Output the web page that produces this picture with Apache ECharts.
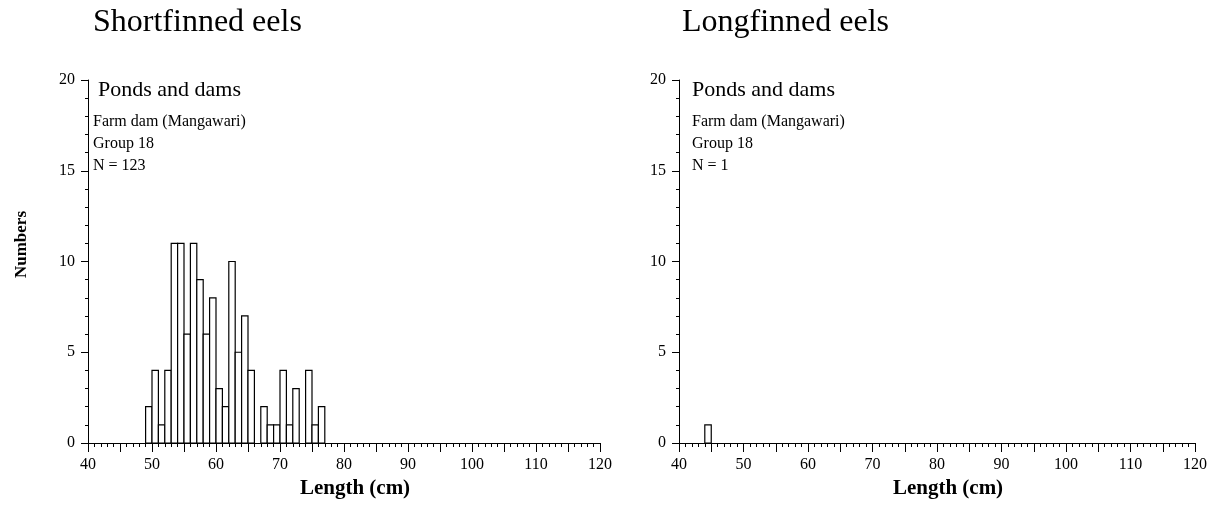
<!DOCTYPE html>
<html>
<head>
<meta charset="utf-8">
<style>
  html, body { margin: 0; padding: 0; background: #fff; }
  #chart { width: 1223px; height: 510px; }
</style>
<script src="https://cdn.jsdelivr.net/npm/echarts@6/dist/echarts.min.js"></script>
</head>
<body>
<div id="chart"></div>
<script>
// Length-frequency counts in 1 cm bins (bin start, cm)
const shortBins = [49, 50, 51, 52, 53, 54, 55, 56, 57, 58, 59, 60, 61, 62,
                   63, 64, 65, 66, 67, 68, 69, 70, 71, 72, 73, 74, 75, 76];
const shortCounts = [2, 4, 1, 4, 11, 11, 6, 11, 9, 6, 8, 3, 2, 10,
                     5, 7, 4, 0, 2, 1, 1, 4, 1, 3, 0, 4, 1, 2];
const longBins = [44];
const longCounts = [1];

const panelTitles = ['Shortfinned eels', 'Longfinned eels'];
const habitatLabel = 'Ponds and dams';
const siteLines = [
  ['Farm dam (Mangawari)', 'Group 18', 'N = 123'],
  ['Farm dam (Mangawari)', 'Group 18', 'N = 1']
];

const SERIF = '"Liberation Serif", "DejaVu Serif", serif';
const BINW = 1;

function pairs(bins, counts) {
  return bins.map((b, i) => [b, counts[i]]);
}

// Histogram bars: each bin spans [start, start + 1) on the length axis
function renderBin(params, api) {
  const x = api.value(0);
  const n = api.value(1);
  if (!n) return null;
  const p0 = api.coord([x, 0]);
  const p1 = api.coord([x + BINW, n]);
  return {
    type: 'rect',
    shape: { x: p0[0], y: p1[1], width: p1[0] - p0[0], height: p0[1] - p1[1] },
    style: { fill: '#ffffff', stroke: '#000000', lineWidth: 1.2 }
  };
}

function xAxisFor(gridIndex) {
  return {
    type: 'value', gridIndex, min: 40, max: 120, interval: 5,
    name: 'Length (cm)', nameLocation: 'middle', nameGap: 35,
    nameTextStyle: { fontFamily: SERIF, fontWeight: 'bold', fontSize: 21, color: '#000', padding: [0, 0, 0, 22] },
    axisLine: { show: true, onZero: false, lineStyle: { color: '#000', width: 1 } },
    axisTick: { show: true, length: 9, lineStyle: { color: '#000', width: 1 } },
    minorTick: { show: true, splitNumber: 5, length: 4, lineStyle: { color: '#000', width: 1 } },
    axisLabel: {
      margin: 14, fontFamily: SERIF, fontSize: 16, color: '#000',
      formatter: v => (v % 10 === 0 ? String(v) : '')
    },
    splitLine: { show: false }
  };
}

function yAxisFor(gridIndex, withName) {
  const ax = {
    type: 'value', gridIndex, min: 0, max: 20, interval: 5,
    axisLine: { show: true, lineStyle: { color: '#000', width: 1 } },
    axisTick: { show: true, length: 7, lineStyle: { color: '#000', width: 1 } },
    minorTick: { show: true, splitNumber: 5, length: 3, lineStyle: { color: '#000', width: 1 } },
    axisLabel: { margin: 13, fontFamily: SERIF, fontSize: 16, color: '#000' },
    splitLine: { show: false }
  };
  if (withName) {
    ax.name = 'Numbers';
    ax.nameLocation = 'middle';
    ax.nameGap = 58;
    ax.nameTextStyle = { fontFamily: SERIF, fontWeight: 'bold', fontSize: 17, color: '#000', padding: [0, 0, 0, 34] };
  }
  return ax;
}

function textBlock(left, top, text, size, lineHeight) {
  return {
    text, left, top, padding: 0,
    textStyle: { fontFamily: SERIF, fontWeight: 'normal', fontSize: size, color: '#000', lineHeight: lineHeight || size }
  };
}

const chart = echarts.init(document.getElementById('chart'), null, { renderer: 'canvas' });
chart.setOption({
  backgroundColor: '#ffffff',
  animation: false,
  title: [
    textBlock(93, 7, panelTitles[0], 32),
    textBlock(682, 7, panelTitles[1], 32),
    textBlock(98, 79, habitatLabel, 22),
    textBlock(692, 79, habitatLabel, 22),
    textBlock(93, 111, siteLines[0].join('\n'), 16, 22),
    textBlock(692, 111, siteLines[1].join('\n'), 16, 22)
  ],
  grid: [
    { left: 88, top: 80, width: 512, height: 363 },
    { left: 679, top: 80, width: 516, height: 363 }
  ],
  xAxis: [xAxisFor(0), xAxisFor(1)],
  yAxis: [yAxisFor(0, true), yAxisFor(1, false)],
  series: [
    {
      type: 'custom', name: panelTitles[0], xAxisIndex: 0, yAxisIndex: 0,
      renderItem: renderBin, encode: { x: 0, y: 1 },
      data: pairs(shortBins, shortCounts)
    },
    {
      type: 'custom', name: panelTitles[1], xAxisIndex: 1, yAxisIndex: 1,
      renderItem: renderBin, encode: { x: 0, y: 1 },
      data: pairs(longBins, longCounts)
    }
  ]
});
</script>
</body>
</html>
